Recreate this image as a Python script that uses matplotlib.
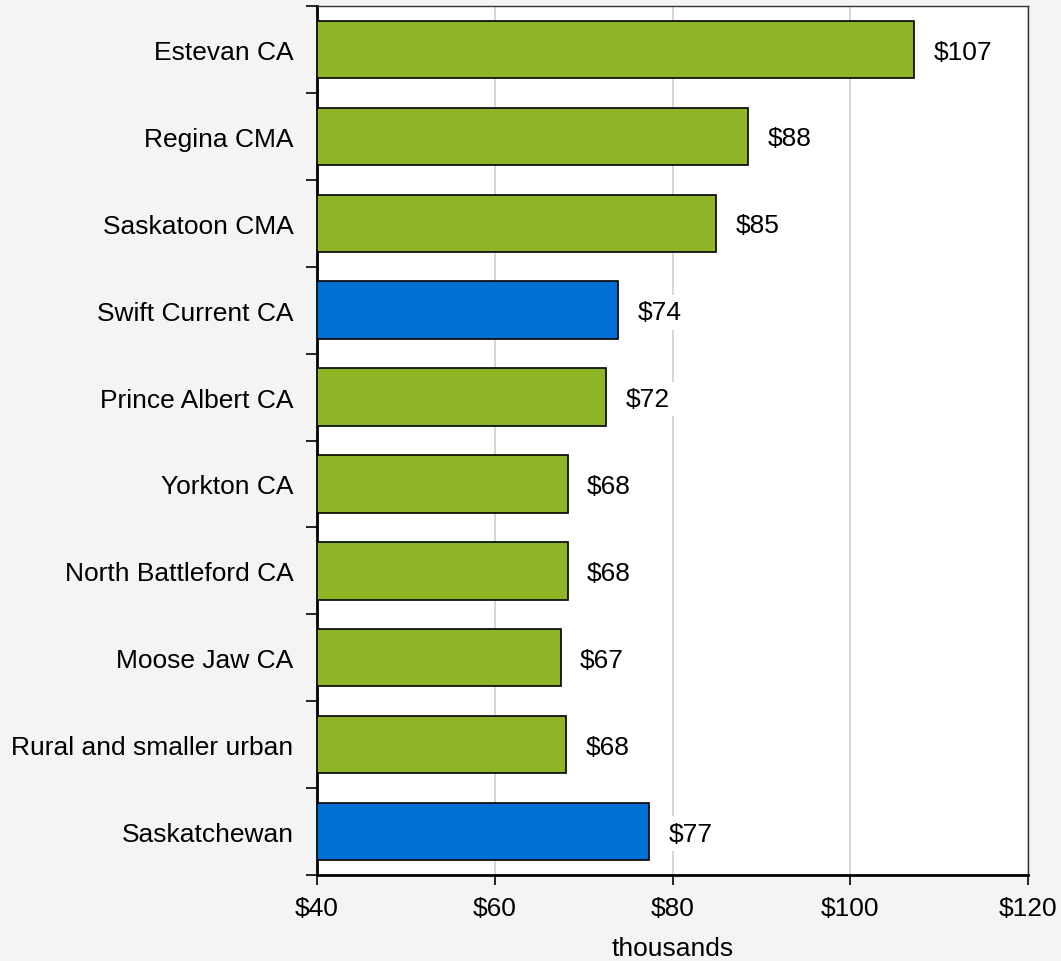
import numpy as np
from matplotlib import pyplot as plt
from matplotlib.ticker import FixedLocator

plt.rcParams['font.family'] = ['Liberation Sans', 'DejaVu Sans']

regions = ["Estevan CA", "Regina CMA", "Saskatoon CMA", "Swift Current CA",
           "Prince Albert CA", "Yorkton CA", "North Battleford CA",
           "Moose Jaw CA", "Rural and smaller urban", "Saskatchewan"]
income = [107.2, 88.5, 84.9, 73.9, 72.5, 68.2, 68.2, 67.4, 68.0, 77.4]
highlight = [False, False, False, True, False, False, False, False, False, True]

green = '#8db526'
blue = '#0070d4'
bg = '#f4f4f4'
fs = 19

fig = plt.figure(figsize=(10.61, 9.62), dpi=100, facecolor=bg)
ax = fig.add_axes([317 / 1061, 1 - 876 / 962, 711 / 1061, 869 / 962])

y = np.arange(len(regions))
colors = [blue if h else green for h in highlight]
ax.barh(y, np.array(income) - 40, left=40, height=0.66, color=colors,
        edgecolor='black', linewidth=1.2, zorder=3)

for yi, v in zip(y, income):
    ax.annotate(f"${v:.0f}", (v, yi), xytext=(14, -1.5), textcoords='offset points',
                va='center', ha='left', fontsize=fs, zorder=4,
                bbox=dict(boxstyle='square,pad=0.2', fc='white', ec='none'))

ax.set_xlim(40, 120)
ax.set_ylim(len(regions) - 0.5, -0.5)
ax.set_xticks([40, 60, 80, 100, 120])
ax.set_xticklabels(["$40", "$60", "$80", "$100", "$120"], fontsize=fs)
ax.set_xlabel("thousands", fontsize=fs, labelpad=12)
ax.xaxis.grid(True, color='#d0d0d0', linewidth=1.2, zorder=0)

ax.set_yticks(y)
ax.set_yticklabels(regions, fontsize=fs, va='center_baseline')
ax.tick_params(axis='y', which='major', length=0, pad=17)
ax.yaxis.set_minor_locator(FixedLocator(np.arange(-0.5, len(regions), 1)))
ax.tick_params(axis='y', which='minor', length=8, width=1.2, direction='out')
ax.tick_params(axis='x', length=7, width=1.2, direction='out', pad=8)

ax.set_facecolor('white')
ax.spines['left'].set_linewidth(2)
ax.spines['bottom'].set_linewidth(2)
ax.spines['top'].set_linewidth(1)
ax.spines['right'].set_linewidth(1)
ax.spines['top'].set_color('#333333')
ax.spines['right'].set_color('#333333')

fig.savefig('out.png', dpi=100, facecolor=bg)
